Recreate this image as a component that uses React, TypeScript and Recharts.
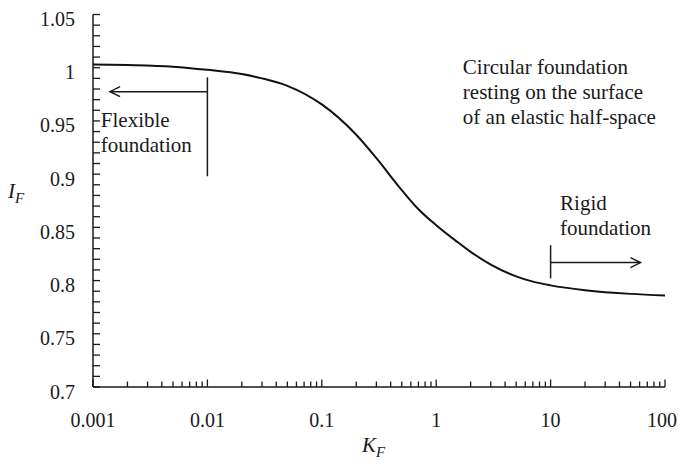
import { LineChart, Line, XAxis, YAxis, ReferenceLine, ReferenceDot, Label } from "recharts"

// Influence factor I_F against flexibility factor K_F (log scale)
const kF = [0.001, 0.002, 0.005, 0.01, 0.02, 0.03, 0.05, 0.1, 0.2, 0.3, 0.5, 0.7, 1, 1.5, 2, 3, 5, 7, 10, 20, 50, 100]
const iF = [1.003, 1.0025, 1.001, 0.998, 0.994, 0.99, 0.983, 0.9655, 0.937, 0.915, 0.885, 0.867, 0.852, 0.837, 0.827, 0.815, 0.804, 0.799, 0.7955, 0.791, 0.7875, 0.786]

const xMajor = [0.001, 0.01, 0.1, 1, 10, 100]
const xLabels = ["0.001", "0.01", "0.1", "1", "10", "100"]
const yMajor = [0.7, 0.75, 0.8, 0.85, 0.9, 0.95, 1, 1.05]
const yLabels = ["0.7", "0.75", "0.8", "0.85", "0.9", "0.95", "1", "1.05"]

// minor ticks: 2..9 in each decade, 0.01 steps on the y axis
const xTicks = xMajor.slice(0, -1).flatMap((d) => [1, 2, 3, 4, 5, 6, 7, 8, 9].map((k) => +(d * k).toPrecision(3))).concat([100])
const yTicks = Array.from({ length: 36 }, (_, i) => +(0.7 + i * 0.01).toFixed(2))

const data = kF.map((k, i) => ({ k, i: iF[i] }))

const FONT = "'Liberation Serif', Tinos, 'Times New Roman', 'DejaVu Serif', serif"
const INK = "#1a1a1a"
const textStyle = { fontFamily: FONT }

function XTick({ x, y, payload }: any) {
  const idx = xMajor.findIndex((v) => Math.abs(v - payload.value) < 1e-9)
  const major = idx >= 0
  const last = idx === xMajor.length - 1
  return (
    <g>
      <line x1={x} y1={y} x2={x} y2={y - (major ? 7.5 : 5.5)} stroke={INK} strokeWidth={1.3} />
      {major && (
        <text x={last ? x - 3 : x} y={y + 40} textAnchor="middle" style={textStyle} fontSize={20} fill={INK}>
          {xLabels[idx]}
        </text>
      )}
    </g>
  )
}

function YTick({ x, y, payload }: any) {
  const idx = yMajor.findIndex((v) => Math.abs(v - payload.value) < 1e-9)
  return (
    <g>
      <line x1={x} y1={y} x2={x + 7} y2={y} stroke={INK} strokeWidth={1.3} />
      {idx >= 0 && (
        <text x={x - 18} y={y + 11.5} textAnchor="end" style={textStyle} fontSize={20} fill={INK}>
          {yLabels[idx]}
        </text>
      )}
    </g>
  )
}

function ArrowLine({ x1, y1, x2, y2 }: any) {
  const dir = Math.sign(x2 - x1)
  return (
    <g>
      <line x1={x1} y1={y1} x2={x2} y2={y2} stroke={INK} strokeWidth={1.5} />
      <polyline
        points={`${x2 - dir * 10},${y2 - 5} ${x2},${y2} ${x2 - dir * 10},${y2 + 5}`}
        fill="none"
        stroke={INK}
        strokeWidth={1.5}
      />
    </g>
  )
}

function Note({ viewBox, lines }: any) {
  return (
    <text x={viewBox.x} y={viewBox.y} style={textStyle} fontSize={21} fill={INK}>
      {lines.map((t: string, i: number) => (
        <tspan key={t} x={viewBox.x} dy={i === 0 ? 0 : 25}>
          {t}
        </tspan>
      ))}
    </text>
  )
}

function AxisTitle({ viewBox, main, sub, dx, dy }: any) {
  return (
    <text x={viewBox.x + dx} y={viewBox.y + dy} style={textStyle} fontSize={21} fontStyle="italic" fill={INK}>
      {main}
      <tspan fontSize={15} dy={5}>
        {sub}
      </tspan>
    </text>
  )
}

export default function App() {
  return (
    <div style={{ position: "absolute", left: 0, top: 0, background: "#fff", fontFamily: FONT }}>
      <LineChart width={678} height={464} data={data} margin={{ top: 14.5, right: 13, bottom: 17, left: 0 }}>
        <XAxis
          dataKey="k"
          type="number"
          scale="log"
          domain={[0.001, 100]}
          ticks={xTicks}
          interval={0}
          height={60}
          tickSize={0}
          tickMargin={0}
          tickLine={false}
          axisLine={{ stroke: INK, strokeWidth: 1.5 }}
          tick={<XTick />}
          allowDataOverflow
        >
          <Label content={<AxisTitle main="K" sub="F" dx={269} dy={65} />} />
        </XAxis>
        <YAxis
          type="number"
          domain={[0.7, 1.05]}
          ticks={yTicks}
          interval={0}
          width={93}
          tickSize={0}
          tickMargin={0}
          tickLine={false}
          axisLine={{ stroke: INK, strokeWidth: 1.5 }}
          tick={<YTick />}
          allowDataOverflow
        >
          <Label content={<AxisTitle main="I" sub="F" dx={8} dy={183} />} />
        </YAxis>

        {/* flexible foundation marker */}
        <ReferenceLine segment={[{ x: 0.01, y: 0.991 }, { x: 0.01, y: 0.898 }]} stroke={INK} strokeWidth={1.5} />
        <ReferenceLine segment={[{ x: 0.01, y: 0.9775 }, { x: 0.00141, y: 0.9775 }]} shape={ArrowLine} />
        <ReferenceDot x={0.00117} y={0.944} r={0} fill="none" stroke="none" label={<Note lines={["Flexible", "foundation"]} />} />

        {/* rigid foundation marker */}
        <ReferenceLine segment={[{ x: 10, y: 0.8332 }, { x: 10, y: 0.8021 }]} stroke={INK} strokeWidth={1.5} />
        <ReferenceLine segment={[{ x: 10, y: 0.8169 }, { x: 61, y: 0.8169 }]} shape={ArrowLine} />
        <ReferenceDot x={12.1} y={0.8666} r={0} fill="none" stroke="none" label={<Note lines={["Rigid", "foundation"]} />} />

        <ReferenceDot
          x={1.71}
          y={0.994}
          r={0}
          fill="none"
          stroke="none"
          label={<Note lines={["Circular foundation", "resting on the surface", "of an elastic half-space"]} />}
        />

        <Line type="monotone" dataKey="i" stroke="#111" strokeWidth={2} dot={false} isAnimationActive={false} />
      </LineChart>
    </div>
  )
}
